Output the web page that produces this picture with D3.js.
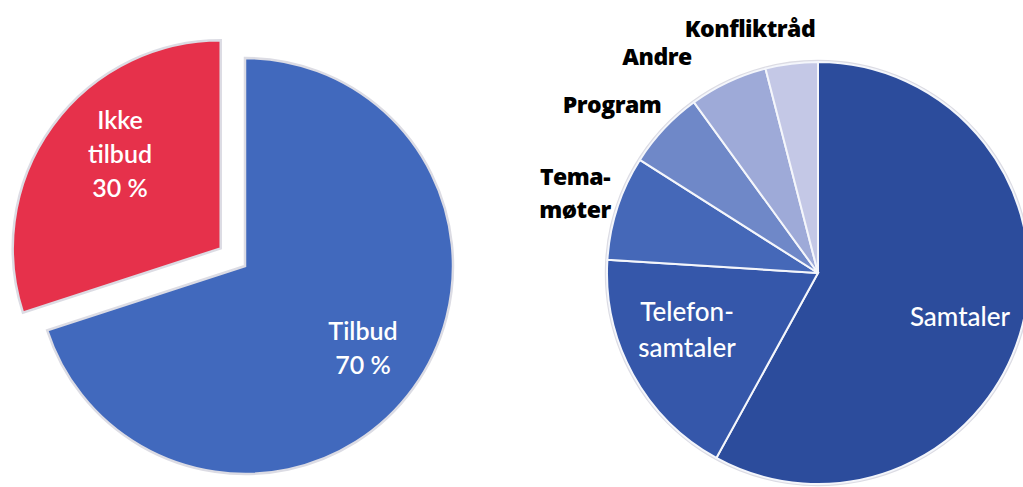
<!DOCTYPE html>
<html><head><meta charset="utf-8">
<script src="https://cdn.jsdelivr.net/npm/d3@7"></script>
<style>html,body{margin:0;padding:0;background:#fff;overflow:hidden}</style>
</head><body>
<svg id="c" width="1023" height="487"></svg>
<script>
// Left pie
const leftCats = ["Tilbud", "Ikke tilbud"];
const leftVals = [70, 30];
const leftLabels = [["Tilbud", "70 %"], ["Ikke", "tilbud", "30 %"]];
const leftColors = ["#4169bd", "#e6314b"];

// Right pie
const rightCats = ["Samtaler", "Telefonsamtaler", "Temamøter", "Program", "Andre", "Konfliktråd"];
const rightVals = [58, 18, 8, 6, 6, 4];
const rightColors = ["#2c4c9c", "#3557aa", "#4568b8", "#6f88c8", "#9eaad8", "#c4c8e6"];

const svg = d3.select("#c");
const pie = d3.pie().sort(null).value(d => d);

// ---- Left chart
const L = {cx: 245, cy: 266, r: 208, explode: 30};
const lArcs = pie(leftVals);
const lArc = d3.arc().innerRadius(0).outerRadius(L.r);
const lg = svg.append("g").attr("transform", `translate(${L.cx},${L.cy})`);
lArcs.forEach((a, i) => {
  const mid = (a.startAngle + a.endAngle) / 2;
  const off = i === 1 ? L.explode : 0;
  const dx = Math.sin(mid) * off, dy = -Math.cos(mid) * off;
  lg.append("path").attr("d", lArc(a))
    .attr("transform", `translate(${dx},${dy})`)
    .attr("fill", leftColors[i])
    .attr("stroke", "#dcdce4").attr("stroke-width", 2.5);
});
const leftLabelPos = [[118, 82], [-125, -112]];
lArcs.forEach((a, i) => {
  const lines = leftLabels[i];
  const t = lg.append("text").attr("text-anchor", "middle")
    .attr("font-family", "Lato, 'Open Sans', sans-serif")
    .attr("font-size", 25).attr("font-weight", 600).attr("fill", "#fff");
  const [x, y] = leftLabelPos[i];
  lines.forEach((ln, j) => {
    t.append("tspan").attr("x", x).attr("y", y + j * 34 - (lines.length - 1) * 17 + 9).text(ln);
  });
});

// ---- Right chart
const R = {cx: 818, cy: 273, r: 211};
const rArcs = pie(rightVals);
const rArc = d3.arc().innerRadius(0).outerRadius(R.r);
const rg = svg.append("g").attr("transform", `translate(${R.cx},${R.cy})`);
rg.append("circle").attr("r", R.r + 1).attr("fill", "none").attr("stroke", "#dcdce4").attr("stroke-width", 2.5);
rArcs.forEach((a, i) => {
  rg.append("path").attr("d", rArc(a)).attr("fill", rightColors[i])
    .attr("stroke", "#f4f6fb").attr("stroke-width", 2);
});
// inside white labels
const rInside = [
  {i: 0, lines: ["Samtaler"], x: 142, y: 44},
  {i: 1, lines: ["Telefon-", "samtaler"], x: -131, y: 57}
];
rInside.forEach(o => {
  const t = rg.append("text").attr("text-anchor", "middle")
    .attr("font-family", "Lato, 'Open Sans', sans-serif")
    .attr("font-size", 26).attr("font-weight", 500).attr("fill", "#fff");
  o.lines.forEach((ln, j) => {
    t.append("tspan").attr("x", o.x).attr("y", o.y + j * 36 - (o.lines.length - 1) * 18 + 9).text(ln);
  });
});
// outside black labels
const rOutside = [
  {lines: ["Tema-", "møter"], x: -243, y: -80},
  {lines: ["Program"], x: -206, y: -168},
  {lines: ["Andre"], x: -161, y: -216},
  {lines: ["Konfliktråd"], x: -68, y: -244}
];
rOutside.forEach(o => {
  const t = rg.append("text").attr("text-anchor", "middle")
    .attr("font-family", "'Open Sans', Lato, sans-serif")
    .attr("font-size", 23).attr("font-weight", 800).attr("fill", "#000")
    .attr("letter-spacing", -0.5);
  o.lines.forEach((ln, j) => {
    t.append("tspan").attr("x", o.x).attr("y", o.y + j * 33 - (o.lines.length - 1) * 16.5 + 8).text(ln);
  });
});
</script>
</body></html>
